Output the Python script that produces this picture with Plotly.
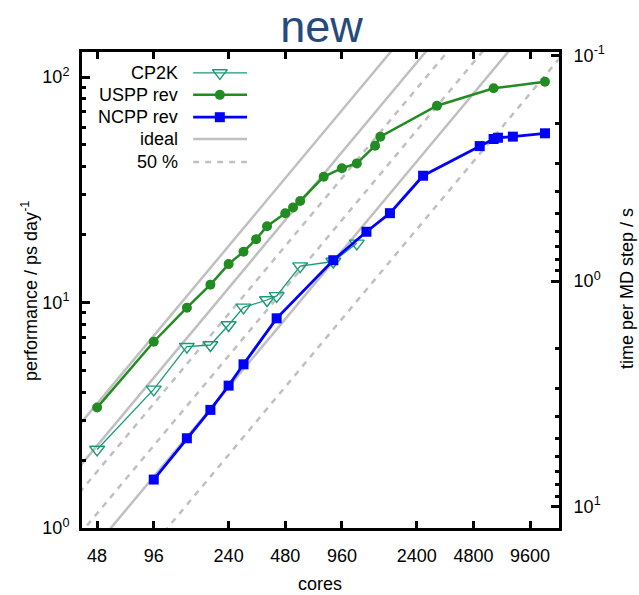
import numpy as np
import plotly.graph_objects as go

# ---------------- data ----------------
uspp_cores = [48, 96, 144, 192, 240, 288, 336, 384, 480, 528, 576, 768, 960, 1152, 1440, 1536, 3072, 6144, 11520]
uspp_perf = [3.42, 6.70, 9.48, 12.0, 14.8, 16.8, 19.1, 21.8, 24.9, 26.4, 28.2, 36.1, 39.4, 41.4, 49.6, 54.4, 74.6, 89.1, 95.3]

cp2k_cores = [48, 96, 144, 192, 240, 288, 384, 432, 576, 864, 1152]
cp2k_perf = [2.23, 4.12, 6.37, 6.48, 7.95, 9.52, 10.26, 10.7, 14.5, 15.2, 18.3]

ncpp_cores = [96, 144, 192, 240, 288, 432, 864, 1296, 1728, 2592, 5184, 6144, 6480, 7776, 11520]
ncpp_perf = [1.64, 2.50, 3.34, 4.28, 5.32, 8.51, 15.4, 20.6, 24.9, 36.5, 49.4, 53.1, 53.8, 54.4, 56.3]

# ideal-scaling reference points (perf at a given core count)
ideal_ref_cores = [48, 48, 96]
ideal_ref_perf = [3.56, 2.32, 1.69]
efficiency_50 = 0.5

x_tickvals = [48, 96, 240, 480, 960, 2400, 4800, 9600]
x_ticktext = ["48", "96", "240", "480", "960", "2400", "4800", "9600"]
y_tickvals = [1, 10, 100]
y_ticktext = ["10<sup>0</sup>", "10<sup>1</sup>", "10<sup>2</sup>"]
y2_tickvals = [0.1, 1, 10]
y2_ticktext = ["10<sup>-1</sup>", "10<sup>0</sup>", "10<sup>1</sup>"]

# time per MD step [s] = K / performance [ps/day]
K_time = 12.45

legend_labels = ["CP2K", "USPP rev", "NCPP rev", "ideal", "50 %"]

# ---------------- styles ----------------
FONT = "Liberation Sans, Arial, sans-serif"
C_CP2K = "#1a9a78"
C_USPP = "#228b22"
C_NCPP = "#0000ff"
C_GREY = "#c0c0c0"

x_range = [1.601, 4.136]
y_range = [0.0, 2.111]
y2_range = [np.log10(K_time / 10 ** y_range[0]), np.log10(K_time / 10 ** y_range[1])]

fig = go.Figure()

# ideal lines and 50% lines
xl = np.array([20.0, 30000.0])
for rc, rp in zip(ideal_ref_cores, ideal_ref_perf):
    fig.add_trace(go.Scatter(x=xl, y=rp * xl / rc, mode="lines",
                             line=dict(color=C_GREY, width=2.5), showlegend=False, hoverinfo="skip"))
    fig.add_trace(go.Scatter(x=xl, y=efficiency_50 * rp * xl / rc, mode="lines",
                             line=dict(color=C_GREY, width=2.5, dash="6px,6px"), showlegend=False, hoverinfo="skip"))

fig.add_trace(go.Scatter(x=cp2k_cores, y=cp2k_perf, mode="lines+markers",
                         line=dict(color=C_CP2K, width=1.3),
                         marker=dict(symbol="triangle-down-open", size=13, color=C_CP2K, line=dict(width=1.4, color=C_CP2K)),
                         showlegend=False))
fig.add_trace(go.Scatter(x=uspp_cores, y=uspp_perf, mode="lines+markers",
                         line=dict(color=C_USPP, width=2.5),
                         marker=dict(symbol="circle", size=10, color=C_USPP),
                         showlegend=False))
fig.add_trace(go.Scatter(x=ncpp_cores, y=ncpp_perf, mode="lines+markers",
                         line=dict(color=C_NCPP, width=2.8),
                         marker=dict(symbol="square", size=10, color=C_NCPP),
                         showlegend=False))

# dummy trace to activate right axis
fig.add_trace(go.Scatter(x=[100], y=[1], yaxis="y2", mode="markers", marker=dict(opacity=0),
                         showlegend=False, hoverinfo="skip"))

# custom legend (symbols right of labels) on an overlay axis in [0,1]
leg_y = [0.956, 0.910, 0.863, 0.817, 0.769]
lx0, lx1, lxm = 0.233, 0.346, 0.289
leg_styles = [
    dict(line=dict(color=C_CP2K, width=1.3), marker=dict(symbol="triangle-down-open", size=13, color=C_CP2K, line=dict(width=1.4, color=C_CP2K))),
    dict(line=dict(color=C_USPP, width=2.5), marker=dict(symbol="circle", size=10, color=C_USPP)),
    dict(line=dict(color=C_NCPP, width=2.8), marker=dict(symbol="square", size=10, color=C_NCPP)),
    dict(line=dict(color=C_GREY, width=2.5), marker=None),
    dict(line=dict(color=C_GREY, width=2.5, dash="6px,6px"), marker=None),
]
for lab, ly, st in zip(legend_labels, leg_y, leg_styles):
    fig.add_trace(go.Scatter(x=[lx0, lx1], y=[ly, ly], mode="lines", line=st["line"],
                             xaxis="x3", yaxis="y3", showlegend=False, hoverinfo="skip"))
    if st["marker"] is not None:
        fig.add_trace(go.Scatter(x=[lxm], y=[ly], mode="markers", marker=st["marker"],
                                 xaxis="x3", yaxis="y3", showlegend=False, hoverinfo="skip"))
    fig.add_annotation(x=0.2055, y=ly, xref="paper", yref="paper", text=lab, showarrow=False,
                       xanchor="right", yanchor="middle", font=dict(size=18, color="black", family=FONT))

axis_common = dict(showgrid=False, zeroline=False, showline=True, linecolor="black", linewidth=3,
                   ticks="inside", tickcolor="black", tickwidth=2.5,
                   tickfont=dict(size=18, color="black", family=FONT))

fig.update_layout(
    width=639, height=595,
    margin=dict(l=82, r=80, t=52, b=67),
    paper_bgcolor="white", plot_bgcolor="white",
    font=dict(family=FONT, size=18, color="black"),
    title=dict(text="new", x=0.502, xref="paper", xanchor="center", y=1 - 26 / 595, yref="container",
               yanchor="middle", font=dict(size=45, color="#244a7e", family=FONT)),
    xaxis=dict(type="log", range=x_range, tickmode="array", tickvals=x_tickvals, ticktext=x_ticktext,
               ticklen=7, mirror="ticks", ticklabelstandoff=9, **axis_common),
    yaxis=dict(type="log", range=y_range, tickmode="array", tickvals=y_tickvals, ticktext=y_ticktext,
               ticklen=8, mirror=True, ticklabelstandoff=6,
               minor=dict(ticks="inside", ticklen=4, tickwidth=2.5, tickcolor="black", tickmode="array",
                          tickvals=[v * d for d in [1, 10] for v in range(2, 10)]),
               **axis_common),
    yaxis2=dict(type="log", range=y2_range, overlaying="y", side="right", anchor="x",
                tickmode="array", tickvals=y2_tickvals, ticktext=y2_ticktext, ticklen=8, ticklabelstandoff=8,
                minor=dict(ticks="inside", ticklen=4, tickwidth=2.5, tickcolor="black", tickmode="array",
                           tickvals=[v * d for d in [0.1, 1] for v in range(2, 10)]),
                **axis_common),
    xaxis3=dict(range=[0, 1], overlaying="x", visible=False, anchor="y3"),
    yaxis3=dict(range=[0, 1], overlaying="y", visible=False, anchor="x3"),
    showlegend=False,
)

fig.add_annotation(x=-0.109, y=0.498, xref="paper", yref="paper", text="performance / ps day<sup>-1</sup>",
                   textangle=-90, showarrow=False, xanchor="center", yanchor="middle",
                   font=dict(size=18, color="black", family=FONT))
fig.add_annotation(x=1.1426, y=0.502, xref="paper", yref="paper", text="time per MD step / s",
                   textangle=-90, showarrow=False, xanchor="center", yanchor="middle",
                   font=dict(size=18, color="black", family=FONT))
fig.add_annotation(x=0.499, y=-0.1176, xref="paper", yref="paper", text="cores",
                   showarrow=False, xanchor="center", yanchor="middle",
                   font=dict(size=18, color="black", family=FONT))

fig.write_html("out.html")
